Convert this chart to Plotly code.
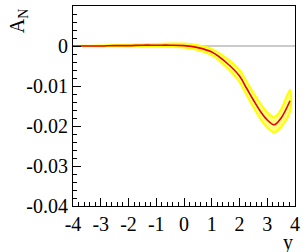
import plotly.graph_objects as go

# data
y_rap = [-4.0, -3.5, -3.0, -2.5, -2.0, -1.5, -1.0, -0.5, 0.0, 0.5, 1.0, 1.5, 2.0, 2.25, 2.5, 2.75, 3.0, 3.25, 3.5, 3.82]
a_n = [0.0, 0.0, 0.0, 0.0001, 0.0001, 0.0002, 0.0002, 0.0002, 0.0001, -0.0004, -0.0015, -0.0040, -0.0075, -0.0105, -0.0135, -0.0163, -0.0185, -0.0197, -0.0180, -0.0137]
a_err = [0.0, 0.00005, 0.0001, 0.00015, 0.0002, 0.00025, 0.0003, 0.0004, 0.0005, 0.0006, 0.0008, 0.0011, 0.0015, 0.0017, 0.0018, 0.0019, 0.0019, 0.0019, 0.0022, 0.0027]

x_ticks = [-4, -3, -2, -1, 0, 1, 2, 3, 4]
x_tick_text = ["-4", "-3", "-2", "-1", "0", "1", "2", "3", "4"]
y_ticks = [-0.04, -0.03, -0.02, -0.01, 0, 0.01]
y_tick_text = ["-0.04", "-0.03", "-0.02", "-0.01", "0", "0.01"]

upper = [v + e for v, e in zip(a_n, a_err)]
lower = [v - e for v, e in zip(a_n, a_err)]

FONT = "'Liberation Serif', 'Times New Roman', serif"

fig = go.Figure()
fig.add_trace(go.Scatter(
    x=y_rap + y_rap[::-1], y=upper + lower[::-1],
    fill="toself", fillcolor="rgb(255,255,130)",
    line=dict(color="rgb(255,255,0)", width=2, shape="spline"),
    mode="lines", hoverinfo="skip", showlegend=False))
fig.add_trace(go.Scatter(
    x=y_rap, y=a_n, mode="lines",
    line=dict(color="rgb(230,0,0)", width=1.6, shape="spline"),
    showlegend=False))

fig.add_shape(type="line", xref="x", yref="y", x0=-4, x1=4, y0=0, y1=0,
              line=dict(color="rgb(150,150,150)", width=1), layer="below")

fig.update_layout(
    width=305, height=252,
    margin=dict(l=73, r=5, t=6, b=46),
    paper_bgcolor="white", plot_bgcolor="white",
    font=dict(family=FONT, size=20, color="black"),
    showlegend=False,
)
fig.update_xaxes(
    range=[-4, 4], tickvals=x_ticks, ticktext=x_tick_text,
    tickfont=dict(family=FONT, size=20, color="black"),
    ticks="inside", ticklen=8, tickwidth=1, tickcolor="black",
    minor=dict(dtick=0.2, ticks="inside", ticklen=4, tickcolor="black", showgrid=False),
    showline=True, linecolor="black", linewidth=1, mirror=True,
    showgrid=False, zeroline=False,
)
fig.update_yaxes(
    range=[-0.04, 0.01], tickvals=y_ticks, ticktext=y_tick_text,
    tickfont=dict(family=FONT, size=20, color="black"),
    ticks="inside", ticklen=8, tickwidth=1, tickcolor="black",
    minor=dict(dtick=0.002, ticks="inside", ticklen=4, tickcolor="black", showgrid=False),
    showline=True, linecolor="black", linewidth=1, mirror=True,
    showgrid=False, zeroline=False,
)
fig.add_annotation(text="y", xref="paper", yref="paper", x=1.0, y=-0.115,
                   xanchor="right", yanchor="top", showarrow=False,
                   font=dict(family=FONT, size=20))
fig.add_annotation(text="A<sub>N</sub>", xref="paper", yref="paper", x=-0.31, y=1.0,
                   xanchor="left", yanchor="top", textangle=-90, showarrow=False,
                   font=dict(family=FONT, size=20))

fig.write_html("out.html", config={"displayModeBar": False},
               post_script="document.body.style.margin='0';document.body.style.overflow='hidden';")
